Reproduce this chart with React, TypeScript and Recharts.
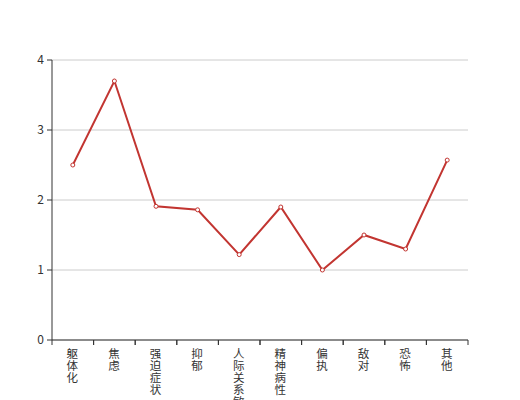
import { CartesianGrid, Line, LineChart, XAxis, YAxis } from "recharts"

const categories = ["躯体化", "焦虑", "强迫症状", "抑郁", "人际关系敏感", "精神病性", "偏执", "敌对", "恐怖", "其他"]
const scores = [2.5, 3.7, 1.91, 1.86, 1.22, 1.9, 1.0, 1.5, 1.3, 2.57]
const yTicks = [0, 1, 2, 3, 4]

const data = categories.map((name, i) => ({ name, value: scores[i] }))

const red = "#c23531"
const axisColor = "#333"
const font = "'Noto Sans CJK SC', sans-serif"

// category labels stacked one character per line, plus tick marks on band edges
function VerticalTick(props: any) {
    const { x, y, payload } = props
    const half = payload && payload.offset ? payload.offset : 20.8
    const chars = String(payload.value).split("")
    return (
        <g>
            <line x1={x - half} x2={x - half} y1={y} y2={y + 5} stroke={axisColor} />
            <line x1={x + half} x2={x + half} y1={y} y2={y + 5} stroke={axisColor} />
            <text x={x} y={y} textAnchor="middle" fill={axisColor} fontSize={11.5} fontFamily={font}>
                {chars.map((c, i) => (
                    <tspan key={i} x={x - 0.5} dy={i === 0 ? 18 : 12}>
                        {c}
                    </tspan>
                ))}
            </text>
        </g>
    )
}

export default function App() {
    return (
        <div style={{ position: "absolute", left: 0, top: 0, width: 520, height: 400 }}>
            <LineChart width={520} height={400} data={data} margin={{ top: 60, right: 52, bottom: 0, left: 0 }}>
                <CartesianGrid vertical={false} stroke="#ccc" />
                <XAxis
                    dataKey="name"
                    scale="band"
                    tick={<VerticalTick />}
                    tickLine={false}
                    axisLine={{ stroke: axisColor }}
                    interval={0}
                    tickMargin={0}
                    tickSize={0}
                    height={60}
                />
                <YAxis
                    domain={[0, 4]}
                    ticks={yTicks}
                    width={52}
                    tickSize={5}
                    tickMargin={3}
                    axisLine={{ stroke: axisColor }}
                    tickLine={{ stroke: axisColor }}
                    tick={{ fill: axisColor, fontSize: 12, fontFamily: font }}
                />
                <Line
                    type="linear"
                    dataKey="value"
                    stroke={red}
                    strokeWidth={2}
                    dot={{ r: 2, fill: "#fff", stroke: red, strokeWidth: 1 }}
                    activeDot={false}
                    isAnimationActive={false}
                />
            </LineChart>
        </div>
    )
}
